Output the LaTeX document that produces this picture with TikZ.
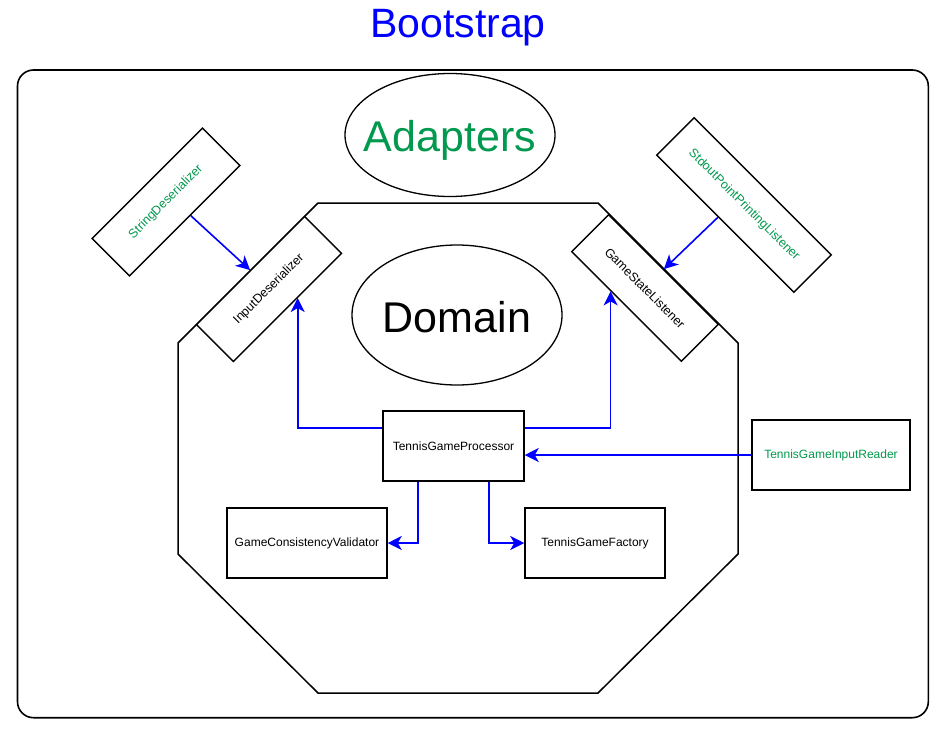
\documentclass[tikz,border=0pt]{standalone}
\usepackage{fontspec}
\setmainfont{Liberation Sans}
\usetikzlibrary{shapes.geometric,arrows.meta,calc}
\definecolor{agreen}{RGB}{0,153,77}
\definecolor{ablue}{RGB}{0,0,255}
\tikzset{
  box/.style={draw=black, line width=1.5pt, fill=white, rectangle, inner sep=0pt, font=\fontsize{12}{14}\selectfont},
  rbox/.style={box, line width=1.4pt, font=\fontsize{12.5}{14}\selectfont},
  oval/.style={draw=black, line width=1.3pt, ellipse, inner sep=0pt},
  bigtext/.style={inner sep=0pt, font=\fontsize{43}{50}\selectfont},
  arr/.style={draw=ablue, line width=1.6pt, -{Stealth[length=14pt,width=14pt,inset=4pt]}},
}
\begin{document}
\begin{tikzpicture}[x=1pt,y=-1pt]
\useasboundingbox (0,0) rectangle (947,742);
% title
\node[text=ablue, font=\fontsize{41}{46}\selectfont] (title) at (458,28) {Bootstrap};
% outer frame
\draw[line width=1.6pt, rounded corners=16pt] (17.5,70) rectangle (928.3,717.7);
% adapters ellipse
\node[oval, minimum width=210pt, minimum height=123pt] (adapters) at (450,135) {};
\node[bigtext, text=agreen, yshift=-5pt] (adapterslbl) at (adapters.center) {Adapters};
% octagon (domain boundary)
\draw[line width=1.5pt] (318,203) -- (598,203) -- (738,343) -- (738,554) -- (598,693) -- (318,693) -- (178,554) -- (178,343) -- cycle;
% domain ellipse
\node[oval, minimum width=210pt, minimum height=140pt] (domain) at (457,315) {};
\node[bigtext, yshift=-2pt] (domainlbl) at (domain.center) {Domain};
% rotated boxes
\node[rbox, minimum width=156pt, minimum height=53pt, rotate=45, text=agreen] (SD) at (166,202) {StringDeserializer};
\node[rbox, minimum width=153pt, minimum height=52pt, rotate=45] (ID) at (269,289) {InputDeserializer};
\node[rbox, minimum width=155pt, minimum height=52pt, rotate=-45] (GSL) at (645,288) {GameStateListener};
\node[rbox, minimum width=194pt, minimum height=53pt, rotate=-45, text=agreen] (SPPL) at (744,205) {StdoutPointPrintingListener};
% straight boxes
\node[box, minimum width=141pt, minimum height=70pt] (TGP) at (453.5,446) {TennisGameProcessor};
\node[box, minimum width=160pt, minimum height=70pt] (GCV) at (307,543) {GameConsistencyValidator};
\node[box, minimum width=140pt, minimum height=70pt] (TGF) at (595,543) {TennisGameFactory};
\node[box, minimum width=158pt, minimum height=70pt, text=agreen] (TGIR) at (831,455) {TennisGameInputReader};
% connectors
\draw[arr] ($(SD.south west)!0.55!(SD.south east)$) -- (ID.north);
\draw[arr] ($(SPPL.south west)!0.45!(SPPL.south east)$) -- (GSL.north);
\draw[arr] ($(TGP.north west)!0.25!(TGP.south west)$) -| ($(ID.south west)!0.59!(ID.south east)$);
\draw[arr] ($(TGP.north east)!0.25!(TGP.south east)$) -| ($(GSL.south west)!0.36!(GSL.south east)$);
\draw[arr] (TGIR.west) -- (TGP.east |- TGIR.west);
\draw[arr] ($(TGP.south west)!0.25!(TGP.south east)$) |- (GCV.east);
\draw[arr] ($(TGP.south west)!0.75!(TGP.south east)$) |- (TGF.west);
\end{tikzpicture}
\end{document}
